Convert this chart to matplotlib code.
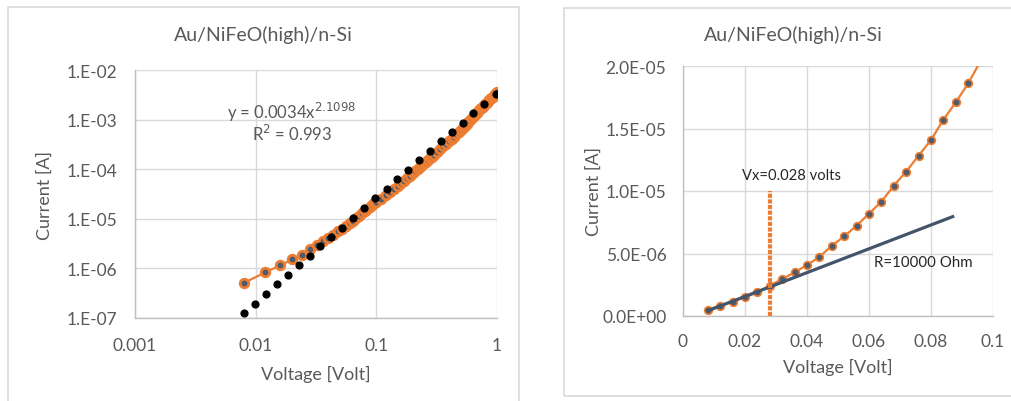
import matplotlib
matplotlib.use("Agg")
import matplotlib.pyplot as plt
from matplotlib.patches import Rectangle

# measured I-V data of Au/NiFeO(high)/n-Si
voltage = [0.008, 0.012, 0.016, 0.020, 0.024, 0.028, 0.032, 0.036, 0.040, 0.044,
           0.048, 0.052, 0.056, 0.060, 0.064, 0.068, 0.072, 0.076, 0.080, 0.084,
           0.088, 0.092, 0.096,
           0.10, 0.11, 0.12, 0.13, 0.14, 0.15, 0.16, 0.17, 0.18, 0.19, 0.20,
           0.21, 0.22, 0.23, 0.24, 0.25, 0.26, 0.27, 0.28, 0.29, 0.30,
           0.32, 0.34, 0.36, 0.38, 0.40, 0.42, 0.44, 0.46, 0.48, 0.50,
           0.52, 0.54, 0.56, 0.58, 0.60, 0.62, 0.64, 0.66, 0.68, 0.70,
           0.72, 0.74, 0.76, 0.78, 0.80, 0.82, 0.84, 0.86, 0.88, 0.90,
           0.92, 0.94, 0.96, 0.98, 1.00]
current = [0.51e-6, 0.83e-6, 1.15e-6, 1.52e-6, 1.89e-6, 2.43e-6, 2.96e-6, 3.49e-6, 4.08e-6, 4.72e-6,
           5.63e-6, 6.37e-6, 7.23e-6, 8.19e-6, 9.15e-6, 10.43e-6, 11.55e-6, 12.83e-6, 14.08e-6, 15.71e-6,
           17.09e-6, 18.61e-6, 20.4e-6,
           2.15e-5, 2.55e-5, 3.0e-5, 3.5e-5, 4.0e-5, 4.6e-5, 5.2e-5, 5.9e-5, 6.6e-5, 7.4e-5, 8.2e-5,
           9.1e-5, 1.00e-4, 1.10e-4, 1.20e-4, 1.31e-4, 1.42e-4, 1.54e-4, 1.66e-4, 1.79e-4, 1.92e-4,
           2.21e-4, 2.53e-4, 2.87e-4, 3.23e-4, 3.62e-4, 4.08e-4, 4.56e-4, 5.08e-4, 5.64e-4, 6.23e-4,
           6.85e-4, 7.55e-4, 8.30e-4, 9.10e-4, 9.93e-4, 1.08e-3, 1.18e-3, 1.27e-3, 1.38e-3, 1.48e-3,
           1.60e-3, 1.71e-3, 1.82e-3, 1.94e-3, 2.07e-3, 2.19e-3, 2.33e-3, 2.47e-3, 2.61e-3, 2.75e-3,
           2.90e-3, 3.06e-3, 3.22e-3, 3.38e-3, 3.55e-3]

# power trendline y = 0.0034 x^2.1098 (dotted)
fit_v = [0.0080, 0.0099, 0.0121, 0.0149, 0.0184, 0.0227, 0.0281, 0.0344, 0.0424, 0.0522,
         0.0644, 0.0796, 0.0982, 0.122, 0.149, 0.184, 0.227, 0.279, 0.344, 0.424,
         0.519, 0.637, 0.785, 0.975]
fit_i = [1.26e-7, 1.94e-7, 3.04e-7, 4.75e-7, 7.43e-7, 1.15e-6, 1.79e-6, 2.81e-6, 4.32e-6, 6.65e-6,
         1.04e-5, 1.63e-5, 2.59e-5, 3.99e-5, 6.24e-5, 9.62e-5, 1.50e-4, 2.35e-4, 3.62e-4, 5.66e-4,
         8.73e-4, 1.36e-3, 2.10e-3, 3.29e-3]

# ohmic line R = 10000 Ohm and the Vx marker
ohm_v = [0.008, 0.087]
ohm_i = [0.42e-6, 7.95e-6]
vx = 0.028
vx_top = 1.0e-5

log_xticks = [0.001, 0.01, 0.1, 1]
log_xlabels = ["0.001", "0.01", "0.1", "1"]
log_yticks = [1e-7, 1e-6, 1e-5, 1e-4, 1e-3, 1e-2]
log_ylabels = ["1.E-07", "1.E-06", "1.E-05", "1.E-04", "1.E-03", "1.E-02"]
lin_xticks = [0, 0.02, 0.04, 0.06, 0.08, 0.1]
lin_xlabels = ["0", "0.02", "0.04", "0.06", "0.08", "0.1"]
lin_yticks = [0, 5e-6, 1e-5, 1.5e-5, 2e-5]
lin_ylabels = ["0.0E+00", "5.0E-06", "1.0E-05", "1.5E-05", "2.0E-05"]

ORANGE = "#ED7D31"
MARK = "#4F5B6D"
SLATE = "#44546A"
GRAY = "#595959"
GRID = "#D9D9D9"

plt.rcParams["font.family"] = ["Lato", "DejaVu Sans"]

W, H = 1011, 402
fig = plt.figure(figsize=(W / 100, H / 100), dpi=100)


def box(x0, y0, x1, y1):
    # pixel box (top-left origin) -> figure fraction rect
    return [x0 / W, 1 - y1 / H, (x1 - x0) / W, (y1 - y0) / H]


# chart frames
fig.patches.append(Rectangle((8 / W, -0.05), (519 - 8) / W, 1 - 8 / H + 0.05,
                             transform=fig.transFigure, fill=False, ec=GRID, lw=1.2))
fig.patches.append(Rectangle((564 / W, 1 - 397 / H), 0.6, (397 - 9) / H,
                             transform=fig.transFigure, fill=False, ec=GRID, lw=1.2))


def style(ax):
    ax.grid(True, color=GRID, lw=1.0)
    ax.set_axisbelow(True)
    for s in ["top", "right"]:
        ax.spines[s].set_visible(False)
    for s in ["left", "bottom"]:
        ax.spines[s].set_color("#BFBFBF")
        ax.spines[s].set_linewidth(1.0)
    ax.tick_params(length=0, labelcolor=GRAY, labelsize=12.5)
    ax.minorticks_off()


# ---- left: log-log
ax1 = fig.add_axes(box(135, 71, 497, 319))
ax1.set_xscale("log")
ax1.set_yscale("log")
ax1.plot(voltage, current, color=ORANGE, lw=1.6, marker="o", ms=6.2,
         mfc=MARK, mec=ORANGE, mew=2.0, zorder=3)
ax1.plot(fit_v, fit_i, ls="none", marker="o", ms=4.9, color="black", zorder=4)
ax1.set_xlim(0.001, 1)
ax1.set_ylim(1e-7, 1e-2)
ax1.set_xticks(log_xticks)
ax1.set_xticklabels(log_xlabels)
ax1.set_yticks(log_yticks)
ax1.set_yticklabels(log_ylabels)
style(ax1)
ax1.tick_params(axis="y", pad=13)
ax1.tick_params(axis="x", pad=14)
ax1.set_xlabel("Voltage [Volt]", color=GRAY, fontsize=13, labelpad=8)
ax1.set_ylabel("Current [A]", color=GRAY, fontsize=13, labelpad=10)
fig.text(263 / W, 1 - 35 / H, "Au/NiFeO(high)/n-Si", color=GRAY, fontsize=14,
         ha="center", va="center")
fig.text(292 / W, 1 - 112 / H, r"y = 0.0034x$^{2.1098}$", color=GRAY, fontsize=12,
         ha="center", va="center")
fig.text(292 / W, 1 - 134 / H, r"R$^{2}$ = 0.993", color=GRAY, fontsize=12,
         ha="center", va="center")

# ---- right: linear
ax2 = fig.add_axes(box(683, 67, 993, 317))
ax2.plot(voltage, current, color=ORANGE, lw=1.6, marker="o", ms=5.5,
         mfc=MARK, mec=ORANGE, mew=1.2, zorder=3)
ax2.plot(ohm_v, ohm_i, color=SLATE, lw=2.3, zorder=4)
ax2.plot([vx, vx], [0, vx_top], color=ORANGE, lw=3.0, ls=(0, (1.0, 0.35)),
         solid_capstyle="butt", dash_capstyle="butt", zorder=5)
ax2.set_xlim(0, 0.1)
ax2.set_ylim(0, 2e-5)
ax2.set_xticks(lin_xticks)
ax2.set_xticklabels(lin_xlabels)
ax2.set_yticks(lin_yticks)
ax2.set_yticklabels(lin_ylabels)
style(ax2)
ax2.tick_params(axis="y", pad=12)
ax2.tick_params(axis="x", pad=12)
ax2.set_xlabel("Voltage [Volt]", color=GRAY, fontsize=13, labelpad=7)
ax2.set_ylabel("Current [A]", color=GRAY, fontsize=13, labelpad=0)
ax2.text(0.019, 1.128e-5, "Vx=0.028 volts", color="#262626", fontsize=10.6,
         ha="left", va="center")
ax2.text(0.0616, 4.32e-6, "R=10000 Ohm", color="#262626", fontsize=10.8,
         ha="left", va="center")
fig.text(793 / W, 1 - 35 / H, "Au/NiFeO(high)/n-Si", color=GRAY, fontsize=14,
         ha="center", va="center")

fig.savefig("out.png", dpi=100)
